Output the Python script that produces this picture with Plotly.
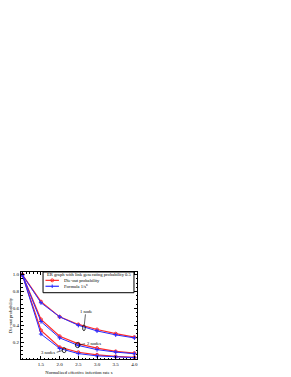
import plotly.graph_objects as go

s_vals = [1.0, 1.5, 2.0, 2.5, 3.0, 3.5, 4.0]

sim_1node = [1.0, 0.68, 0.50, 0.41, 0.35, 0.30, 0.26]
sim_2node = [1.0, 0.47, 0.27, 0.18, 0.13, 0.09, 0.07]
sim_3node = [1.0, 0.34, 0.14, 0.08, 0.05, 0.03, 0.02]

form_1node = [1.0, 0.667, 0.50, 0.40, 0.333, 0.286, 0.25]
form_2node = [1.0, 0.444, 0.25, 0.16, 0.111, 0.082, 0.0625]
form_3node = [1.0, 0.296, 0.125, 0.064, 0.037, 0.023, 0.016]

x_ticks = [1.5, 2.0, 2.5, 3.0, 3.5, 4.0]
y_ticks = [0.2, 0.4, 0.6, 0.8, 1.0]

legend_title = "ER graph with link generating probability 0.5"
legend_labels = ["Die-out probability", "Formula 1/s<sup>n</sup>"]

RED = "#ff2a2a"
BLUE = "#2a2aff"
FONT = "Liberation Serif"
TXT = 4.6

fig = go.Figure()
for ys in [sim_1node, sim_2node, sim_3node]:
    fig.add_trace(go.Scatter(x=s_vals, y=ys, mode="lines+markers",
                             line=dict(color=RED, width=1.2),
                             marker=dict(symbol="circle-open", size=3, color=RED, line=dict(width=1)),
                             showlegend=False))
for ys in [form_1node, form_2node, form_3node]:
    fig.add_trace(go.Scatter(x=s_vals, y=ys, mode="lines+markers",
                             line=dict(color=BLUE, width=1.0),
                             marker=dict(symbol="cross-thin", size=3, color=BLUE, line=dict(width=1, color=BLUE)),
                             showlegend=False))

# ellipses
for (cx, cy, rx, ry) in [(2.65, 0.37, 0.035, 0.035), (2.48, 0.165, 0.06, 0.03), (2.12, 0.105, 0.05, 0.03)]:
    fig.add_shape(type="circle", xref="x", yref="y", x0=cx - rx, x1=cx + rx, y0=cy - ry, y1=cy + ry,
                  line=dict(color="black", width=0.8))
# connector lines
fig.add_shape(type="line", x0=2.66, y0=0.405, x1=2.69, y1=0.53, line=dict(color="black", width=0.6))
fig.add_shape(type="line", x0=2.54, y0=0.17, x1=2.68, y1=0.18, line=dict(color="black", width=0.6))
fig.add_shape(type="line", x0=1.92, y0=0.08, x1=2.07, y1=0.1, line=dict(color="black", width=0.6))

fig.add_annotation(x=2.70, y=0.56, text="1 node", showarrow=False, font=dict(size=TXT, family=FONT, color="black"))
fig.add_annotation(x=2.68, y=0.18, text="2 nodes", showarrow=False, xanchor="left", font=dict(size=TXT, family=FONT, color="black"))
fig.add_annotation(x=1.92, y=0.075, text="3 nodes", showarrow=False, xanchor="right", font=dict(size=TXT, family=FONT, color="black"))

# manual legend
fig.add_shape(type="rect", xref="paper", yref="paper", x0=0.19, x1=0.974, y0=0.762, y1=1.0,
              fillcolor="white", line=dict(color="black", width=1), layer="above")
fig.add_annotation(xref="paper", yref="paper", x=0.205, y=0.969, text=legend_title, showarrow=False,
                   xanchor="left", yanchor="middle", font=dict(size=TXT, family=FONT, color="black"))
legend_y = [0.904, 0.836]
for ly, col, lab, sym in zip(legend_y, [RED, BLUE], legend_labels, ["o", "+"]):
    fig.add_shape(type="line", xref="paper", yref="paper", x0=0.211, x1=0.327, y0=ly, y1=ly,
                  line=dict(color=col, width=1.2), layer="above")
    if sym == "o":
        fig.add_shape(type="circle", xref="paper", yref="paper", x0=0.256, x1=0.282, y0=ly - 0.017, y1=ly + 0.017,
                      line=dict(color=col, width=1), layer="above")
    else:
        fig.add_shape(type="line", xref="paper", yref="paper", x0=0.269, x1=0.269, y0=ly - 0.02, y1=ly + 0.02,
                      line=dict(color=col, width=1), layer="above")
    fig.add_annotation(xref="paper", yref="paper", x=0.356, y=ly, text=lab, showarrow=False,
                       xanchor="left", yanchor="middle", font=dict(size=TXT, family=FONT, color="black"))

axis_common = dict(showgrid=False, zeroline=False, showline=True, linecolor="black", linewidth=1,
                   mirror="ticks", ticks="inside", ticklen=3, tickwidth=0.8, tickcolor="black",
                   automargin=False,
                   tickfont=dict(size=5, family=FONT, color="black"))
fig.update_xaxes(range=[0.965, 4.07], tickvals=x_ticks, ticktext=[f"{v:.1f}" for v in x_ticks],
                 minor=dict(dtick=0.1, ticks="inside", ticklen=1.5, tickcolor="black"),
                 title=dict(text="Normalized effective infection rate s", font=dict(size=TXT, family=FONT, color="black"), standoff=4),
                 **axis_common)
fig.update_yaxes(range=[0, 1.032], tickvals=y_ticks, ticktext=[f"{v:.1f}" for v in y_ticks],
                 minor=dict(dtick=0.05, ticks="inside", ticklen=1.5, tickcolor="black"),
                 title=dict(text="Die-out probability", font=dict(size=TXT, family=FONT, color="black"), standoff=3),
                 **axis_common)

fig.update_layout(width=283, height=369, paper_bgcolor="white", plot_bgcolor="white",
                  margin=dict(l=13, r=154, t=264, b=18, autoexpand=False),
                  font=dict(family=FONT, size=5, color="black"),
                  showlegend=False)

fig.write_html("out.html")
